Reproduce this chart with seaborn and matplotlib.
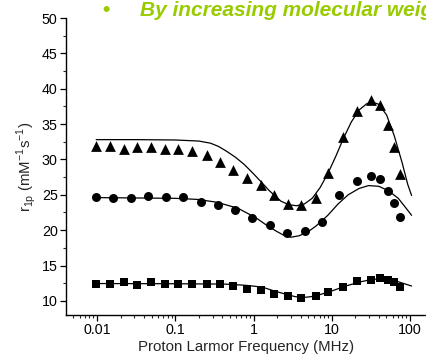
import numpy as np
import pandas as pd
import matplotlib
matplotlib.use("Agg")
import matplotlib.pyplot as plt
import seaborn as sns
from matplotlib.ticker import MultipleLocator, LogLocator, FixedLocator, NullFormatter

# ---- data ----
freq_a = [0.0098, 0.0145, 0.0219, 0.0324, 0.049, 0.074, 0.110, 0.166, 0.251, 0.372,
          0.55, 0.83, 1.23, 1.82, 2.75, 4.07, 6.3, 9.0, 14.1, 20.9, 31.6, 41.7, 52.5, 63.1, 74.1]
tri_vals = [31.84, 31.9, 31.5, 31.7, 31.7, 31.5, 31.46, 31.2, 30.57, 29.6,
            28.5, 27.4, 26.45, 25.0, 23.7, 23.5, 24.6, 28.1, 33.2, 36.8, 38.4, 37.7, 34.8, 31.7, 28.0]
sq_vals = [12.45, 12.45, 12.7, 12.3, 12.6, 12.4, 12.4, 12.4, 12.4, 12.4,
           12.05, 11.66, 11.56, 10.95, 10.7, 10.38, 10.7, 11.3, 12.0, 12.74, 12.93, 13.2, 12.93, 12.6, 11.9]
freq_b = [0.0098, 0.0162, 0.0275, 0.0447, 0.076, 0.126, 0.214, 0.347, 0.575, 0.97, 1.62,
          2.69, 4.53, 7.6, 12.3, 20.9, 31.6, 41.7, 52.5, 61.7, 74.1]
circ_vals = [24.65, 24.5, 24.5, 24.8, 24.65, 24.75, 24.0, 23.6, 22.8, 21.7, 20.7,
             19.6, 19.9, 21.2, 25.0, 27.0, 27.6, 27.2, 25.5, 23.9, 21.9]

# fitted curves (frequency given as log10 MHz)
fit_tri_logf = [-2.01, -1.5, -1.0, -0.7, -0.55, -0.45, -0.35, -0.23, -0.12, -0.02, 0.1, 0.2,
                0.35, 0.45, 0.55, 0.65, 0.75, 0.85, 0.95, 1.05, 1.15, 1.25, 1.35, 1.45, 1.52,
                1.6, 1.7, 1.8, 1.9, 1.97, 2.02]
fit_tri_v = [32.8, 32.8, 32.75, 32.6, 32.3, 31.85, 31.2, 30.3, 29.3, 28.2, 26.8, 25.6,
             24.1, 23.6, 23.45, 23.7, 24.5, 26.0, 28.0, 30.4, 33.0, 35.3, 37.0, 37.9, 38.1,
             37.8, 36.3, 33.3, 29.5, 26.5, 24.9]
fit_circ_logf = [-2.01, -1.0, -0.72, -0.5, -0.39, -0.2, -0.08, 0.05, 0.18, 0.3, 0.4, 0.48,
                 0.58, 0.69, 0.8, 0.95, 1.08, 1.21, 1.35, 1.47, 1.6, 1.72, 1.85, 1.95, 2.02]
fit_circ_v = [24.6, 24.5, 24.35, 24.0, 23.7, 23.1, 22.4, 21.6, 20.6, 19.8, 19.2, 19.0,
              19.2, 19.7, 20.6, 22.1, 23.7, 25.0, 25.9, 26.3, 26.2, 25.6, 24.5, 23.1, 22.1]
fit_sq_logf = [-2.01, -1.0, -0.36, -0.1, 0.11, 0.25, 0.41, 0.53, 0.63, 0.74, 0.84, 1.0,
               1.18, 1.35, 1.52, 1.62, 1.70, 1.85, 2.02]
fit_sq_v = [12.45, 12.42, 12.37, 12.2, 11.95, 11.45, 10.95, 10.6, 10.47, 10.6, 10.85, 11.4,
            12.1, 12.65, 13.05, 13.1, 13.05, 12.7, 12.1]

xticks = [0.01, 0.1, 1, 10, 100]
xtick_labels = ["0.01", "0.1", "1", "10", "100"]
yticks = [10, 15, 20, 25, 30, 35, 40, 45, 50]

# ---- plotting ----
sns.set_style("ticks")
plt.rcParams["font.family"] = ["Liberation Sans", "DejaVu Sans"]

fig = plt.figure(figsize=(4.27, 3.58), dpi=100)
ax = fig.add_axes([66 / 427, (358 - 315) / 358, (427 - 66) / 427, (315 - 18) / 358])

for lf, v in [(fit_tri_logf, fit_tri_v), (fit_circ_logf, fit_circ_v), (fit_sq_logf, fit_sq_v)]:
    sns.lineplot(x=np.power(10.0, lf), y=v, ax=ax, color="black", linewidth=0.9,
                 sort=False, estimator=None)

sns.scatterplot(x=freq_a, y=tri_vals, ax=ax, marker="^", s=60, color="black", edgecolor="black", linewidth=0)
sns.scatterplot(x=freq_b, y=circ_vals, ax=ax, marker="o", s=42, color="black", edgecolor="black", linewidth=0)
sns.scatterplot(x=freq_a, y=sq_vals, ax=ax, marker="s", s=32, color="black", edgecolor="black", linewidth=0)

ax.set_xscale("log")
ax.set_xlim(10 ** -2.396, 10 ** 2.217)
ax.set_ylim(8, 50)
ax.xaxis.set_major_locator(FixedLocator(xticks))
ax.set_xticklabels(xtick_labels)
ax.xaxis.set_minor_locator(LogLocator(base=10, subs=np.arange(2, 10)))
ax.xaxis.set_minor_formatter(NullFormatter())
ax.yaxis.set_major_locator(FixedLocator(yticks))
ax.yaxis.set_minor_locator(MultipleLocator(2.5))

ax.tick_params(axis="both", which="major", direction="out", length=4, width=0.9,
               labelsize=10.3, colors="black", pad=2)
ax.tick_params(axis="both", which="minor", direction="out", length=2, width=0.8)
for s in ["top", "right"]:
    ax.spines[s].set_visible(False)
for s in ["left", "bottom"]:
    ax.spines[s].set_linewidth(1.0)
    ax.spines[s].set_color("black")

ax.set_xlabel("Proton Larmor Frequency (MHz)", fontsize=10.8, labelpad=2)
ax.set_ylabel(r"r$_{\mathregular{1p}}$ (mM$^{\mathregular{-1}}$s$^{\mathregular{-1}}$)",
              fontsize=10.8, labelpad=3)

green = "#99cc00"
fig.text(106 / 427, (358 - 16) / 358, "\u2022", color=green, fontsize=15,
         fontweight="bold", ha="center", va="baseline")
fig.text(140 / 427, (358 - 16) / 358, "By increasing molecular weight", color=green,
         fontsize=15, fontweight="bold", fontstyle="italic", ha="left", va="baseline")

fig.savefig("out.png", dpi=100)
